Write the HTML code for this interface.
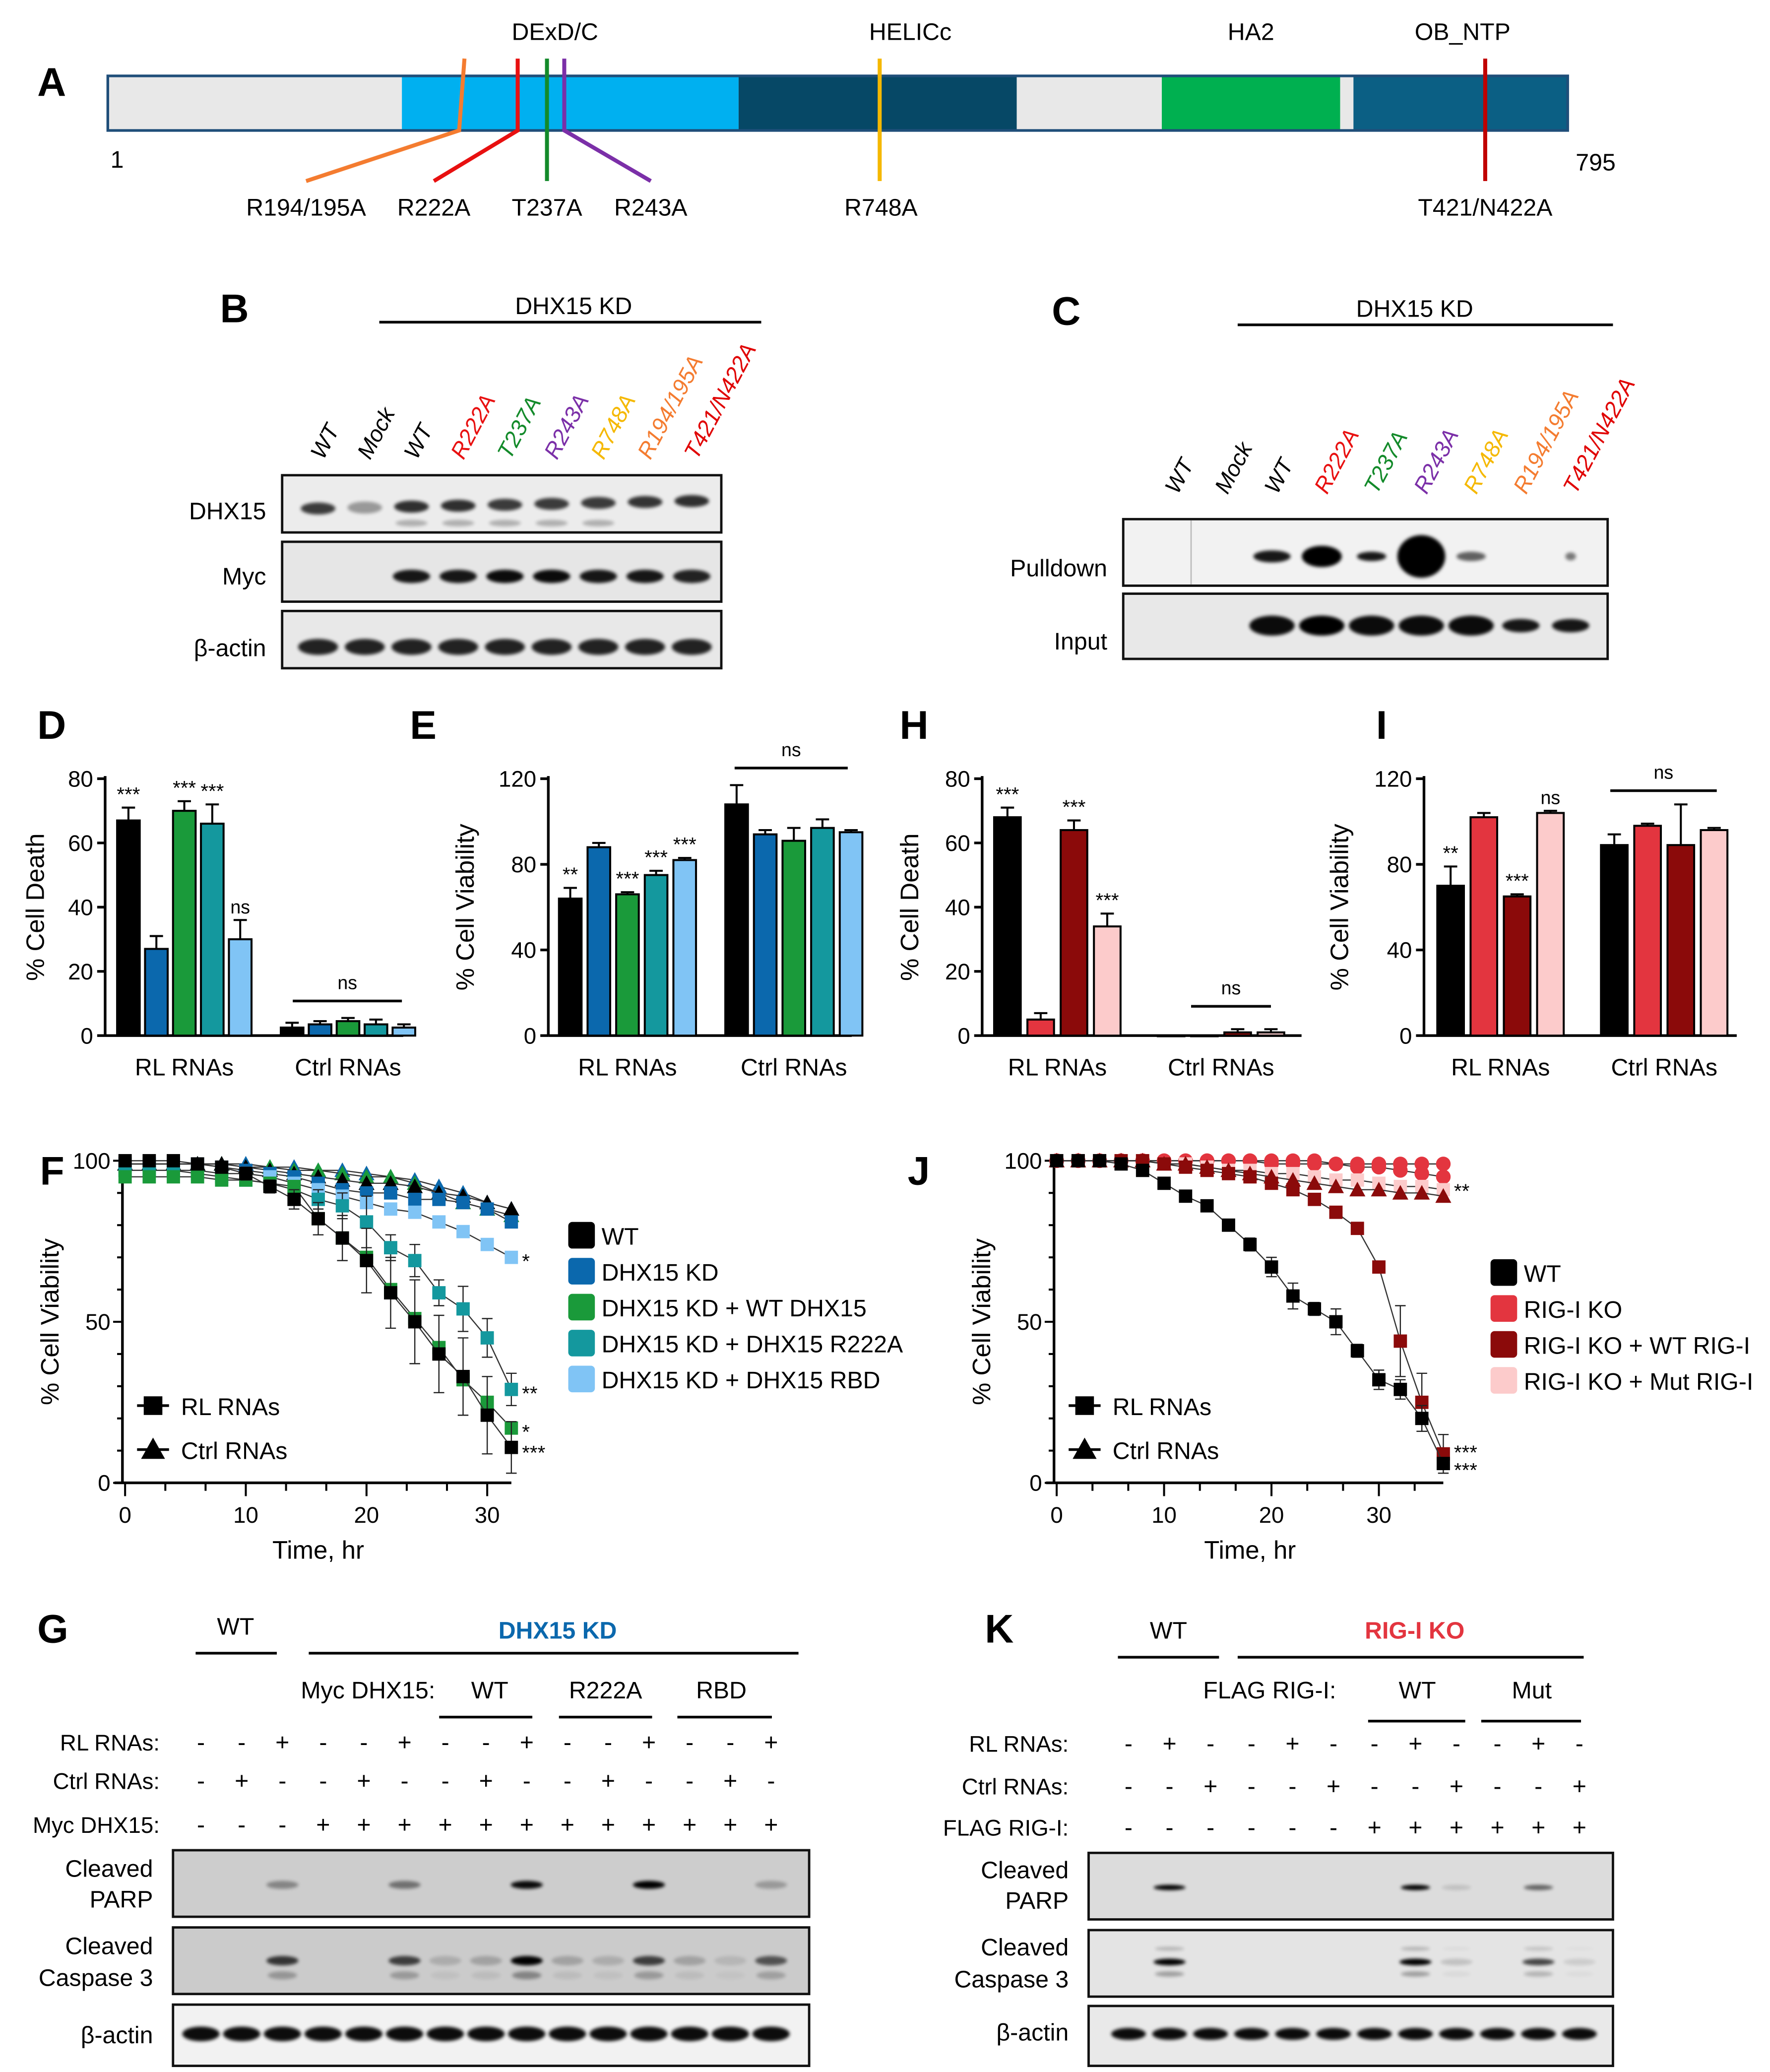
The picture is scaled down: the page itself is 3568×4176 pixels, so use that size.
<!DOCTYPE html>
<html><head><meta charset="utf-8"><style>
html,body{margin:0;padding:0;background:#fff;}
svg{display:block;font-family:"Liberation Sans",sans-serif;}
</style></head><body>
<svg id="fig" xmlns="http://www.w3.org/2000/svg" width="3568" height="4176" viewBox="0 0 1330 1556.6">
<defs>
<filter id="blur1" x="-50%" y="-100%" width="200%" height="300%"><feGaussianBlur stdDeviation="2.2"/></filter>
<filter id="blur2" x="-50%" y="-100%" width="200%" height="300%"><feGaussianBlur stdDeviation="1.3"/></filter>
</defs>
<!-- Panel A -->
<g>
<text x="28" y="72" font-size="30" font-weight="bold">A</text>
<rect x="81" y="57" width="221" height="41" fill="#e8e8e8"/>
<rect x="302" y="57" width="253" height="41" fill="#00b0f0"/>
<rect x="555" y="57" width="209" height="41" fill="#064866"/>
<rect x="764" y="57" width="109" height="41" fill="#e8e8e8"/>
<rect x="873" y="57" width="134" height="41" fill="#00b050"/>
<rect x="1007" y="57" width="10" height="41" fill="#e8e8e8"/>
<rect x="1017" y="57" width="161" height="41" fill="#0b5f84"/>
<rect x="81" y="57" width="1097" height="41" fill="none" stroke="#1f4e79" stroke-width="2"/>
<g font-size="18" text-anchor="middle">
<text x="417" y="30">DExD/C</text>
<text x="684" y="30">HELICc</text>
<text x="940" y="30">HA2</text>
<text x="1099" y="30">OB_NTP</text>
<text x="88" y="126">1</text>
<text x="1199" y="128">795</text>
<text x="230" y="162">R194/195A</text>
<text x="326" y="162">R222A</text>
<text x="411" y="162">T237A</text>
<text x="489" y="162">R243A</text>
<text x="662" y="162">R748A</text>
<text x="1116" y="162">T421/N422A</text>
</g>
<g fill="none" stroke-width="3">
<polyline points="349,44 345,98 230,136" stroke="#f47c30"/>
<polyline points="389,44 389,98 326,136" stroke="#e81010"/>
<polyline points="411,44 411,136" stroke="#138a2a"/>
<polyline points="424,44 424,98 489,136" stroke="#7b2fa8"/>
<polyline points="661,44 661,136" stroke="#f5b800"/>
<polyline points="1116,44 1116,136" stroke="#c00000"/>
</g>
</g>
<g id="dyn"></g>
</svg>
<script>
// ===== Data arrays =====
const barCats = ['RL RNAs','Ctrl RNAs'];
const dRL = [67,27,70,66,30];
const dRLerr = [4,4,3,6,6];
const dCtrl = [2.5,3.5,4.5,3.5,2.5];
const dCtrlErr = [1.5,1,1,1.5,1];
const dStars = ['***','','***','***','ns'];
const eRL = [64,88,66,75,82];
const eRLerr = [5,2,1,2,1];
const eCtrl = [108,94,91,97,95];
const eCtrlErr = [9,2,6,4,1];
const eStars = ['**','','***','***','***'];
const hRL = [68,5,64,34];
const hRLerr = [3,2,3,4];
const hCtrl = [0,0,1,1];
const hCtrlErr = [0,0,1,1];
const hStars = ['***','','***','***'];
const iRL = [70,102,65,104];
const iRLerr = [9,2,1,1];
const iCtrl = [89,98,89,96];
const iCtrlErr = [5,1,19,1];
const iStars = ['**','','***','ns'];
const countTicks80 = [0,20,40,60,80];
const countTicks120 = [0,40,80,120];

const fTimes = [0,2,4,6,8,10,12,14,16,18,20,22,24,26,28,30,32];
const fRL_WT = [100,100,100,99,98,96,92,88,82,76,69,59,50,40,33,21,11];
const fRL_WTerr = [0,0,0,0,1,2,2,3,5,7,10,11,13,12,12,12,8];
const fRL_KD = [99,99,99,99,98,97,96,95,93,91,90,90,88,88,87,85,81];
const fRL_KDWT = [95,95,95,95,94,94,93,92,82,76,70,60,51,42,32,25,17];
const fRL_R222A = [97,97,97,96,95,94,93,91,88,86,81,73,69,59,54,45,29];
const fRL_RBD = [97,97,97,97,96,96,95,93,91,89,87,85,84,81,78,74,70];
const fRL_R222Aerr = [0,0,0,0,0,1,1,2,3,4,8,4,5,4,7,6,5];
const fCt_WT = [99,99,99,99,99,98,97,96,95,94,93,93,92,90,89,87,85];
const fCt_KD = [99,99,99,99,99,99,98,98,97,97,96,95,94,92,90,87,85];
const fCt_KDWT = [99,99,99,99,99,98,98,97,97,96,95,95,93,90,87,85,83];
const fStars = ['***','','*','**','*'];
const fLegend = ['WT','DHX15 KD','DHX15 KD + WT DHX15','DHX15 KD + DHX15 R222A','DHX15 KD + DHX15 RBD'];

const jTimes = [0,2,4,6,8,10,12,14,16,18,20,22,24,26,28,30,32,34,36];
const jRL_WT = [100,100,100,99,97,93,89,86,80,74,67,58,54,50,41,32,29,20,6];
const jRL_WTerr = [0,0,0,0,0,0,0,0,1,2,3,4,2,4,2,3,3,4,1];
const jRL_KO = [100,100,100,100,100,100,100,100,100,100,99,99,99,99,98,98,97,96,95];
const jRL_KOWT = [100,100,100,100,100,99,98,97,96,95,93,91,88,84,79,67,44,25,9];
const jRL_KOWTerr = [0,0,0,0,0,0,0,0,0,0,0,0,0,0,0,1,11,9,6];
const jRL_KOMut = [100,100,100,100,100,99,99,98,97,97,96,96,95,94,94,93,92,92,91];
const jCt_KO = [100,100,100,100,100,100,100,100,100,100,100,100,100,99,99,99,99,99,99];
const jCt_KOWT = [100,100,100,100,100,99,99,98,97,96,95,94,93,92,91,91,90,90,89];
const jStars = ['***','','***','**'];
const jLegend = ['WT','RIG-I KO','RIG-I KO + WT RIG-I','RIG-I KO + Mut RIG-I'];
const timeTicks = [0,10,20,30];
const viaTicks = [0,50,100];

const colF = ['#000000','#0b68ad','#1a9a3a','#14989e','#80c4f5'];
const colH = ['#000000','#e3353f','#8b0a0a','#fccbcb'];

// ===== helpers =====
const NS='http://www.w3.org/2000/svg';
const root=document.getElementById('dyn');
function mk(tag,attrs,parent){const e=document.createElementNS(NS,tag);for(const k in attrs)e.setAttribute(k,attrs[k]);(parent||root).appendChild(e);return e;}
function txt(x,y,s,size,parent,extra){const e=mk('text',Object.assign({x:x,y:y,'font-size':size||17},extra||{}),parent);e.textContent=s;return e;}

// ===== bar charts =====
function barChart(o){
  const g=mk('g',{});
  
  
  const sy=v=>o.y0-(v/o.max)*(o.y0-o.yTop);
  let ax=mk('line',{x1:o.ax,y1:o.yTop-2,x2:o.ax,y2:o.y0,stroke:'#000','stroke-width':2},g);
  
  
  let bx=mk('line',{x1:o.ax,y1:o.y0,x2:o.xEnd,y2:o.y0,stroke:'#000','stroke-width':2},g);
  
  
  o.ticks.forEach(t=>{
    let l=mk('line',{x1:o.ax-6,y1:sy(t),x2:o.ax,y2:sy(t),stroke:'#000','stroke-width':2},g);
    
    
    let tl=txt(o.ax-9,sy(t)+6,String(t),17,g,{'text-anchor':'end'});
    
    
  });
  [o.rl,o.ctrl].forEach((vals,gi)=>{
    const errs=gi==0?o.rlErr:o.ctrlErr;
    const start=o.starts[gi];
    vals.forEach((v,i)=>{
      const x=start+i*o.step;
      const top=sy(Math.max(v,0));
      const e=errs[i];
      if(e>0){let el=mk('path',{d:`M${x+o.w/2},${top} V${sy(v+e)} M${x+o.w/2-5},${sy(v+e)} H${x+o.w/2+5}`,stroke:'#000','stroke-width':1.5,fill:'none'},g);
        
        }
      let r=mk('rect',{x:x,y:top,width:o.w,height:Math.max(o.y0-top,0.5),fill:o.colors[i],stroke:'#000','stroke-width':1.5},g);
      
      
      if(gi==0&&o.stars[i]){let s=txt(x+o.w/2,sy(v+e)-5,o.stars[i],o.stars[i]=='ns'?14:15,g,{'text-anchor':'middle'});
        
        }
    });
    const cx=start+(vals.length*o.step-(o.step-o.w))/2;
    let cl=txt(cx,o.y0+30,barCats[gi],18,g,{'text-anchor':'middle'});
    
    
  });
  let nl=mk('line',{x1:o.ns[0],y1:o.ns[2],x2:o.ns[1],y2:o.ns[2],stroke:'#000','stroke-width':2},g);
  
  
  let nt=txt((o.ns[0]+o.ns[1])/2,o.ns[2]-9,'ns',14,g,{'text-anchor':'middle'});
  
  
  let yt=txt(0,0,o.ytitle,19,g,{'text-anchor':'middle',transform:`translate(${o.ytx},${(o.y0+o.yTop)/2}) rotate(-90)`});
  
  
  let pl=txt(o.lx,555,o.letter,30,g,{'font-weight':'bold'});
  
  
}
barChart({name:'panel-d-cell-death',letter:'D',lx:28,ax:79,y0:778,yTop:585,max:80,ticks:countTicks80,rl:dRL,rlErr:dRLerr,ctrl:dCtrl,ctrlErr:dCtrlErr,stars:dStars,starts:[88,211],step:21,w:17,colors:colF,xEnd:303,ns:[220,302,752],ytitle:'% Cell Death',ytx:33});
barChart({name:'panel-e-cell-viability',letter:'E',lx:308,ax:412,y0:778,yTop:585,max:120,ticks:countTicks120,rl:eRL,rlErr:eRLerr,ctrl:eCtrl,ctrlErr:eCtrlErr,stars:eStars,starts:[420,545],step:21.5,w:17,colors:colF,xEnd:640,ns:[552,637,577],ytitle:'% Cell Viability',ytx:356});
barChart({name:'panel-h-cell-death',letter:'H',lx:676,ax:738,y0:778,yTop:585,max:80,ticks:countTicks80,rl:hRL,rlErr:hRLerr,ctrl:hCtrl,ctrlErr:hCtrlErr,stars:hStars,starts:[747,870],step:25,w:20,colors:colH,xEnd:978,ns:[895,955,756],ytitle:'% Cell Death',ytx:690});
barChart({name:'panel-i-cell-viability',letter:'I',lx:1034,ax:1070,y0:778,yTop:585,max:120,ticks:countTicks120,rl:iRL,rlErr:iRLerr,ctrl:iCtrl,ctrlErr:iCtrlErr,stars:iStars,starts:[1080,1203],step:25,w:20,colors:colH,xEnd:1305,ns:[1210,1290,594],ytitle:'% Cell Viability',ytx:1013});

// ===== line charts =====
function lineChart(o){
  const g=mk('g',{});
  
  
  const sx=t=>o.x0+t*o.pph, sy=v=>o.y0-v*2.42;
  let ay=mk('line',{x1:o.ax,y1:sy(100),x2:o.ax,y2:o.y0,stroke:'#000','stroke-width':2},g);
  
  
  let axx=mk('line',{x1:o.ax-6,y1:o.y0,x2:sx(o.tmax),y2:o.y0,stroke:'#000','stroke-width':2},g);
  
  
  for(let v=0;v<=100;v+=10){let l=mk('line',{x1:o.ax-(v%50?4:7),y1:sy(v),x2:o.ax,y2:sy(v),stroke:'#000','stroke-width':1.5},g);
    
    }
  viaTicks.forEach(v=>{let t=txt(o.ax-9,sy(v)+6,String(v),17,g,{'text-anchor':'end'});
    
    });
  for(let t=0;t<=o.tmax;t+=10/3){let l=mk('line',{x1:sx(t),y1:o.y0,x2:sx(t),y2:o.y0+(Math.abs(t%10)<0.1||Math.abs(t%10-10)<0.1?10:6),stroke:'#000','stroke-width':1.5},g);
    
    }
  timeTicks.forEach(t=>{let l=txt(sx(t),o.y0+30,String(t),17,g,{'text-anchor':'middle'});
    
    });
  let xt=txt(sx(o.titleT),o.y0+57,'Time, hr',19,g,{'text-anchor':'middle'});
  
  
  let yt=txt(0,0,'% Cell Viability',19,g,{'text-anchor':'middle',transform:`translate(${o.ytx},${sy(50)}) rotate(-90)`});
  
  
  let pl=txt(o.lx,890,o.letter,30,g,{'font-weight':'bold'});
  
  
  o.series.forEach(s=>{
    const pts=o.times.map((t,i)=>sx(t)+','+sy(s.v[i])).join(' ');
    let pl2=mk('polyline',{points:pts,fill:'none',stroke:s.line||'#333','stroke-width':0.9},g);
    
    
    if(s.err){o.times.forEach((t,i)=>{if(s.err[i]>0){const x=sx(t);
      let e=mk('path',{d:`M${x},${sy(s.v[i]-s.err[i])}V${sy(s.v[i]+s.err[i])}M${x-4},${sy(s.v[i]-s.err[i])}h8M${x-4},${sy(s.v[i]+s.err[i])}h8`,stroke:'#222','stroke-width':0.9,fill:'none'},g);
      
      }});}
    o.times.forEach((t,i)=>{
      const x=sx(t),y=sy(s.v[i]);let m;
      if(s.m=='sq')m=mk('rect',{x:x-5,y:y-5,width:10,height:10,fill:s.c},g);
      else if(s.m=='tri')m=mk('path',{d:`M${x},${y-6}L${x+6},${y+5}L${x-6},${y+5}Z`,fill:s.c},g);
      else m=mk('circle',{cx:x,cy:y,r:5.5,fill:s.c},g);
      
      
    });
  });
  o.stars.forEach((st,i)=>{if(!st)return;const s=o.series[i];const v=s.v[s.v.length-1];
    let t=txt(sx(o.tmax)+8,sy(v)+o.starDy[i],st,15,g);
    
    });
  // marker legend
  [['RL RNAs','sq',1056],['Ctrl RNAs','tri',1089]].forEach(([lab,m,y])=>{
    const x=o.ax+23;
    let l=mk('line',{x1:x-12,y1:y,x2:x+12,y2:y,stroke:'#000','stroke-width':2},g);
    
    
    let mm=m=='sq'?mk('rect',{x:x-7,y:y-7,width:14,height:14},g):mk('path',{d:`M${x},${y-9}L${x+9},${y+7}L${x-9},${y+7}Z`},g);
    
    
    let tt=txt(x+21,y+7,lab,18,g);
    
    
  });
  o.legend.forEach((lab,i)=>{
    const y=o.legY+i*o.legStep;
    let r=mk('rect',{x:o.legX,y:y-10,width:20,height:20,rx:3,fill:o.colors[i]},g);
    
    
    let t=txt(o.legX+25,y+7,lab,18,g);
    
    
  });
}
lineChart({name:'panel-f-viability-time',letter:'F',lx:30,ax:92,x0:94,pph:9.07,y0:1114,tmax:32,times:fTimes,titleT:16,ytx:44,
  series:[
    {v:fCt_KD,c:colF[1],m:'tri'},{v:fCt_KDWT,c:colF[2],m:'tri'},{v:fCt_WT,c:colF[0],m:'tri'},
    {v:fRL_KD,c:colF[1],m:'sq'},{v:fRL_RBD,c:colF[4],m:'sq'},{v:fRL_R222A,c:colF[3],m:'sq',err:fRL_R222Aerr},
    {v:fRL_KDWT,c:colF[2],m:'sq'},{v:fRL_WT,c:colF[0],m:'sq',err:fRL_WTerr}],
  stars:['','','','','*','**','*','***'],starDy:[0,0,0,0,8,8,8,9],
  legend:fLegend,colors:colF,legX:427,legY:928,legStep:27});
lineChart({name:'panel-j-viability-time',letter:'J',lx:682,ax:792,x0:794,pph:8.07,y0:1114,tmax:36,times:jTimes,titleT:18,ytx:744,
  series:[
    {v:jCt_KO,c:colH[1],m:'circ'},{v:jRL_KO,c:colH[1],m:'circ'},{v:jRL_KOMut,c:colH[3],m:'sq'},{v:jCt_KOWT,c:colH[2],m:'tri'},
    {v:jRL_KOWT,c:colH[2],m:'sq',err:jRL_KOWTerr},{v:jRL_WT,c:colH[0],m:'sq',err:jRL_WTerr}],
  stars:['','','**','','***','***'],starDy:[0,0,6,0,4,10],
  legend:jLegend,colors:colH,legX:1120,legY:956,legStep:27});

// ===== blots =====
function blotBox(name,x,y,w,h,bg){
  let r=mk('rect',{x:x,y:y,width:w,height:h,fill:bg,stroke:'#111','stroke-width':1.8});
  
  
}
function band(cx,cy,w,h,op,blur){
  let e=mk('ellipse',{cx:cx,cy:cy,rx:w/2,ry:h/2,fill:'#000',opacity:op,filter:blur?'url(#blur1)':'url(#blur2)'});
  
  
}
function label(x,y,s,size,anchor,extra){
  let t=txt(x,y,s,size,root,Object.assign({'text-anchor':anchor||'end'},extra||{}));
  
  
  return t;
}
function hline(x1,x2,y,w){
  let l=mk('line',{x1:x1,y1:y,x2:x2,y2:y,stroke:'#000','stroke-width':w||2});
  
  
}
// Panel B
label(187,242,'B',30,'end',{'font-weight':'bold'});
hline(285,572,242,2);
label(431,236,'DHX15 KD',18,'middle');
const bLanes=['WT','Mock','WT','R222A','T237A','R243A','R748A','R194/195A','T421/N422A'];
const bCols=['#000','#000','#000','#e81010','#138a2a','#7b2fa8','#f5b800','#f47c30','#e00000'];
bLanes.forEach((s,i)=>{const x=239+i*35.1;label(x+4,346,s,17,'start',{fill:bCols[i],'font-style':'italic',transform:`rotate(-62 ${x+4} 346)`});});
blotBox('dhx15-blot',212,357,330,43,'#ececec');
blotBox('myc-blot',212,407,330,45,'#e6e6e6');
blotBox('b-actin-blot-b',212,459,330,43,'#e8e8e8');
label(200,390,'DHX15',18);label(200,439,'Myc',18);label(200,493,'β-actin',18);
[0.75,0.35,0.8,0.8,0.75,0.75,0.75,0.78,0.8].forEach((op,i)=>{const x=239+i*35.1;band(x,382-i*0.7,26,9,op,false);if(i>=2&&i<=6)band(x,393,24,5,0.25,false);});
[0,0,0.9,0.9,0.95,0.95,0.9,0.9,0.85].forEach((op,i)=>{if(op)band(239+i*35.1,433,28,10,op,false);});
bLanes.forEach((s,i)=>band(239+i*35.1,486,30,12,0.85,false));
// Panel C
label(812,244,'C',30,'end',{'font-weight':'bold'});
hline(930,1212,244,2);
label(1063,238,'DHX15 KD',18,'middle');
bLanes.forEach((s,i)=>{const x=881+i*37.4;label(x+4,372,s,17,'start',{fill:bCols[i],'font-style':'italic',transform:`rotate(-62 ${x+4} 372)`});});
blotBox('pulldown-blot',844,390,364,50,'#f2f2f2');
blotBox('input-blot',844,446,364,49,'#e8e8e8');
let cl=mk('line',{x1:895,y1:391,x2:895,y2:439,stroke:'#bbb','stroke-width':1});


label(832,433,'Pulldown',18);label(832,488,'Input',18);
[[2,28,9,0.9],[3,30,16,1],[4,22,7,0.9],[5,36,32,1],[6,22,7,0.6],[8,8,6,0.5]].forEach(([i,w,h,op])=>band(881+i*37.4,418,w,h,op,false));
[0.95,1,0.95,0.95,0.95,0.9,0.9].forEach((op,k)=>band(881+(k+2)*37.4,470,k>4?28:34,k>4?10:15,op,false));
// Panel G
label(28,1234,'G',30,'start',{'font-weight':'bold'});
hline(147,208,1242,2);hline(232,600,1242,2);
label(177,1228,'WT',18,'middle');
label(419,1231,'DHX15 KD',18,'middle',{fill:'#0b68ad','font-weight':'bold'});
label(327,1276,'Myc DHX15:',18,'end');
label(368,1276,'WT',18,'middle');label(455,1276,'R222A',18,'middle');label(542,1276,'RBD',18,'middle');
hline(330,400,1290,2);hline(420,490,1290,2);hline(509,580,1290,2);
const gRL=['-','-','+','-','-','+','-','-','+','-','-','+','-','-','+'];
const gCt=['-','+','-','-','+','-','-','+','-','-','+','-','-','+','-'];
const gMyc=['-','-','-','+','+','+','+','+','+','+','+','+','+','+','+'];
label(120,1315,'RL RNAs:',17);label(120,1344,'Ctrl RNAs:',17);label(120,1377,'Myc DHX15:',17);
[gRL,gCt,gMyc].forEach((row,r)=>row.forEach((s,i)=>label(151+i*30.6,[1315,1344,1377][r],s,18,'middle')));
blotBox('g-cleaved-parp-blot',130,1390,478,50,'#cdcdcd');
blotBox('g-cleaved-casp3-blot',130,1448,478,50,'#cbcbcb');
blotBox('g-b-actin-blot',130,1506,478,46,'#f2f2f2');
label(115,1410,'Cleaved',18);label(115,1433,'PARP',18);
label(115,1468,'Cleaved',18);label(115,1492,'Caspase 3',18);
label(115,1535,'β-actin',18);
[[2,0.35],[5,0.45],[8,0.95],[11,1],[14,0.25]].forEach(([i,op])=>band(151+i*30.6,1416,24,6,op,false));
[[2,0.75],[5,0.7],[6,0.15],[7,0.2],[8,1],[9,0.2],[10,0.15],[11,0.7],[12,0.2],[13,0.1],[14,0.6]].forEach(([i,op])=>{band(151+i*30.6,1473,24,7,op,false);band(151+i*30.6,1484,22,6,op*0.35,false);});
gRL.forEach((s,i)=>band(151+i*30.6,1528,28,11,0.95,false));
// Panel K
label(740,1234,'K',30,'start',{'font-weight':'bold'});
hline(840,916,1245,2);hline(930,1190,1245,2);
label(878,1231,'WT',18,'middle');
label(1063,1231,'RIG-I KO',18,'middle',{fill:'#e3353f','font-weight':'bold'});
label(1004,1276,'FLAG RIG-I:',18,'end');
label(1065,1276,'WT',18,'middle');label(1151,1276,'Mut',18,'middle');
hline(1028,1101,1293,2);hline(1113,1188,1293,2);
const kRL=['-','+','-','-','+','-','-','+','-','-','+','-'];
const kCt=['-','-','+','-','-','+','-','-','+','-','-','+'];
const kFlag=['-','-','-','-','-','-','+','+','+','+','+','+'];
label(803,1316,'RL RNAs:',17);label(803,1348,'Ctrl RNAs:',17);label(803,1379,'FLAG RIG-I:',17);
[kRL,kCt,kFlag].forEach((row,r)=>row.forEach((s,i)=>label(848+i*30.8,[1316,1348,1379][r],s,18,'middle')));
blotBox('k-cleaved-parp-blot',818,1392,394,50,'#dcdcdc');
blotBox('k-cleaved-casp3-blot',818,1450,394,50,'#e4e4e4');
blotBox('k-b-actin-blot',818,1507,394,45,'#e9e9e9');
label(803,1411,'Cleaved',18);label(803,1434,'PARP',18);
label(803,1469,'Cleaved',18);label(803,1493,'Caspase 3',18);
label(803,1533,'β-actin',18);
[[1,1,24],[7,1,22],[8,0.12,22],[10,0.55,22]].forEach(([i,op,w])=>band(848+i*30.8,1418,w,4,op,false));
[[1,1],[7,1],[8,0.15],[10,0.7],[11,0.1]].forEach(([i,op])=>{band(848+i*30.8,1474,24,5,op,false);band(848+i*30.8,1464,22,3,op*0.2,false);band(848+i*30.8,1483,22,4,op*0.3,false);});
kRL.forEach((s,i)=>band(848+i*30.8,1528,26,9,0.95,false));
</script>
</body></html>
